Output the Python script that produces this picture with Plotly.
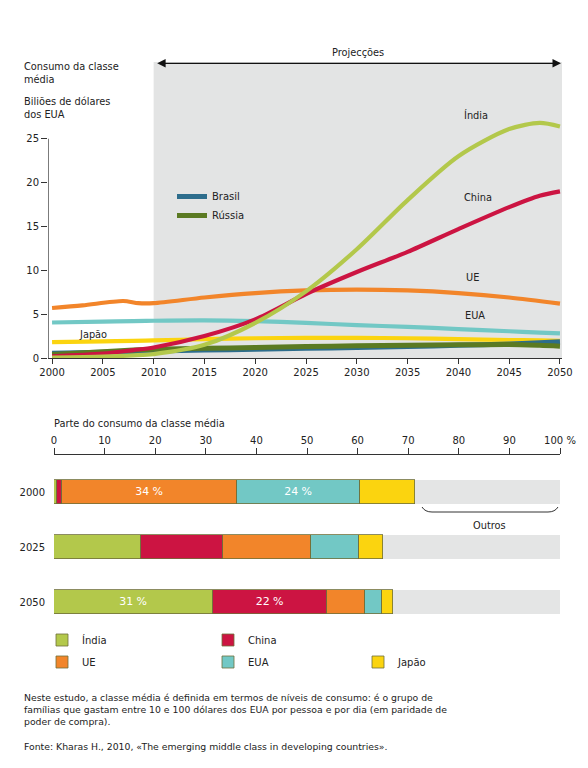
import plotly.graph_objects as go

# The page body has an 8px margin, so the figure is sized to fit the window
# and all reference pixel positions are converted with that offset.
OFF = 8
W, H = 588 - OFF, 768 - 2 * OFF
def px(x): return (x - OFF) / W
def py(y): return 1 - (y - OFF) / H

FONT = "DejaVu Sans"
TXT = "#222222"

# ---------------- Line chart data ----------------
years = [2000, 2005, 2008, 2010, 2015, 2020, 2025, 2030, 2035, 2040, 2045, 2048, 2050]
india = [0.05, 0.15, 0.3, 0.45, 1.5, 4.0, 7.6, 12.4, 18.0, 23.0, 26.1, 26.8, 26.4]
china = [0.2, 0.5, 0.9, 1.2, 2.5, 4.4, 7.3, 9.8, 12.1, 14.7, 17.2, 18.5, 19.0]
ue_years = [2000, 2003, 2007, 2008.5, 2010, 2015, 2020, 2025, 2030, 2035, 2040, 2045, 2050]
ue = [5.7, 6.0, 6.5, 6.25, 6.25, 6.9, 7.4, 7.7, 7.8, 7.7, 7.4, 6.9, 6.2]
eua = [4.05, 4.15, 4.2, 4.25, 4.3, 4.2, 4.0, 3.75, 3.55, 3.3, 3.05, 2.9, 2.8]
japao = [1.8, 1.9, 1.95, 2.0, 2.15, 2.25, 2.3, 2.3, 2.25, 2.15, 2.05, 2.0, 1.95]
brasil = [0.55, 0.65, 0.75, 0.8, 0.9, 1.0, 1.1, 1.2, 1.3, 1.45, 1.6, 1.75, 1.85]
russia = [0.4, 0.7, 0.9, 1.0, 1.1, 1.2, 1.3, 1.4, 1.45, 1.5, 1.55, 1.45, 1.35]

y_ticks = [0, 5, 10, 15, 20, 25]
x_ticks = list(range(2000, 2051, 5))

# ---------------- Bar chart data ----------------
bar_years = ["2000", "2025", "2050"]
share_india = [0.5, 17.2, 31.4]
share_china = [1.1, 16.2, 22.6]
share_ue = [34.5, 17.3, 7.5]
share_eua = [24.4, 9.5, 3.4]
share_japao = [10.9, 4.9, 2.0]
share_outros = [100 - a - b - c - d - e for a, b, c, d, e in
                zip(share_india, share_china, share_ue, share_eua, share_japao)]
lbl_india = ["", "", "31 %"]
lbl_china = ["", "", "22 %"]
lbl_ue = ["34 %", "", ""]
lbl_eua = ["24 %", "", ""]
pct_ticks = list(range(0, 101, 10))
pct_labels = ["0", "10", "20", "30", "40", "50", "60", "70", "80", "90", "100 %"]

C_INDIA = "#b3c84b"
C_CHINA = "#cc1442"
C_UE = "#f2852a"
C_EUA = "#72c8c5"
C_JAPAO = "#fbd40f"
C_BRASIL = "#2d6d8c"
C_RUSSIA = "#5b7a22"
C_OUTROS = "#e4e5e5"

fig = go.Figure()

def line(x, y, color, name, width=4.2, show=False):
    fig.add_trace(go.Scatter(x=x, y=y, mode="lines", name=name,
                             line=dict(color=color, width=width, shape="spline", smoothing=0.8),
                             showlegend=show, xaxis="x", yaxis="y", hoverinfo="skip"))

line(years, eua, C_EUA, "EUA")
line(ue_years, ue, C_UE, "UE")
line(years, japao, C_JAPAO, "Japão")
line(years, brasil, C_BRASIL, "Brasil", width=5, show=True)
line(years, russia, C_RUSSIA, "Rússia", width=5, show=True)
line(years, china, C_CHINA, "China")
line(years, india, C_INDIA, "Índia")

# ---------------- Bars ----------------
def bar(vals, color, name, labels=None, legend=None, outline=True):
    fig.add_trace(go.Bar(
        y=bar_years, x=vals, orientation="h", name=name,
        marker=dict(color=color, line=dict(color="#6f6f3a" if outline else color, width=0.8 if outline else 0)),
        text=labels if labels else None, textposition="inside", insidetextanchor="middle",
        textfont=dict(color="white", size=11, family=FONT), width=0.44,
        xaxis="x2", yaxis="y2", showlegend=legend is not None,
        legend=legend if legend else "legend", hoverinfo="skip"))

bar(share_india, C_INDIA, "Índia", lbl_india, "legend2")
bar(share_china, C_CHINA, "China", lbl_china, "legend3")
bar(share_ue, C_UE, "UE", lbl_ue, "legend4")
bar(share_eua, C_EUA, "EUA", lbl_eua, "legend5")
bar(share_japao, C_JAPAO, "Japão", None, "legend6")
bar(share_outros, C_OUTROS, "Outros", None, None, outline=False)

# ---------------- Layout ----------------
YTOP = 33.75
shapes = [
    dict(type="rect", xref="x", yref="y", x0=2010, x1=2050.2, y0=0, y1=YTOP,
         fillcolor="#e3e4e4", line=dict(width=0), layer="below"),
    dict(type="line", xref="x", yref="y", x0=1999.6, x1=1999.6, y0=0, y1=25,
         line=dict(color="#333333", width=1.3)),
    # Outros bracket
    dict(type="path", xref="paper", yref="paper",
         path=f"M {px(422)} {py(507)} Q {px(425)} {py(512)} {px(432)} {py(512)} "
              f"L {px(548)} {py(512)} Q {px(555)} {py(512)} {px(558)} {py(507)}",
         line=dict(color="#333333", width=1)),
]

def legend_at(x, y):
    return dict(x=px(x), y=py(y), xanchor="left", yanchor="middle", traceorder="normal",
                font=dict(family=FONT, size=10, color=TXT), bgcolor="rgba(0,0,0,0)",
                itemclick=False, itemdoubleclick=False, tracegroupgap=0)

annotations = [
    dict(text="Consumo da classe<br>média", x=px(22), y=py(59), xanchor="left", yanchor="top", align="left"),
    dict(text="Biliões de dólares<br>dos EUA", x=px(22), y=py(94), xanchor="left", yanchor="top", align="left"),
    dict(text="Projecções", x=px(358), y=py(52), xanchor="center", yanchor="middle"),
    dict(text="Índia", x=px(476), y=py(115), xanchor="center", yanchor="middle"),
    dict(text="China", x=px(478), y=py(197), xanchor="center", yanchor="middle"),
    dict(text="UE", x=px(472), y=py(277), xanchor="center", yanchor="middle"),
    dict(text="EUA", x=px(475), y=py(316), xanchor="center", yanchor="middle"),
    dict(text="Japão", x=px(93), y=py(334), xanchor="center", yanchor="middle"),
    dict(text="Parte do consumo da classe média", x=px(52), y=py(423), xanchor="left", yanchor="middle"),
    dict(text="Outros", x=px(489), y=py(525), xanchor="center", yanchor="middle"),
    dict(text="Neste estudo, a classe média é definida em termos de níveis de consumo: é o grupo de<br>"
              "famílias que gastam entre 10 e 100 dólares dos EUA por pessoa e por dia (em paridade de<br>"
              "poder de compra).",
         x=px(22), y=py(690), xanchor="left", yanchor="top", align="left", font=dict(size=9.3)),
    dict(text="Fonte: Kharas H., 2010, «The emerging middle class in developing countries».",
         x=px(22), y=py(739), xanchor="left", yanchor="top", align="left", font=dict(size=9.3)),
]
for a in annotations:
    a.setdefault("xref", "paper")
    a.setdefault("yref", "paper")
    a.setdefault("showarrow", False)
    a.setdefault("font", dict(size=9.8))
    a["font"] = dict(family=FONT, color=TXT, **a["font"])

# double-headed arrow
annotations.append(dict(x=2050.1, y=33.6, ax=2010.2, ay=33.6, xref="x", yref="y", axref="x", ayref="y",
                        text="", showarrow=True, arrowhead=2, arrowside="end+start",
                        arrowsize=1.3, arrowwidth=1.3, arrowcolor="#111111"))

axis_common = dict(showgrid=False, zeroline=False, automargin=False, fixedrange=True,
                   tickfont=dict(size=10, family=FONT, color=TXT))

fig.update_layout(
    template="none",
    width=W, height=H, margin=dict(l=0, r=0, t=0, b=0, pad=0, autoexpand=False),
    paper_bgcolor="white", plot_bgcolor="rgba(0,0,0,0)",
    font=dict(family=FONT, size=10, color=TXT),
    barmode="stack", bargap=0,
    xaxis=dict(domain=[px(48), px(562)], range=[1999.6, 2050.2], tickvals=x_ticks,
               showline=True, linecolor="#333333", linewidth=1.3,
               ticks="outside", ticklen=5, tickcolor="#333333", tickwidth=1.2,
               anchor="y", **axis_common),
    yaxis=dict(domain=[py(358), py(62)], range=[0, YTOP], tickvals=y_ticks, showline=False,
               ticks="outside", ticklen=6, tickcolor="#333333", tickwidth=1.2,
               anchor="x", **axis_common),
    xaxis2=dict(domain=[px(54), px(560)], range=[0, 100], tickvals=pct_ticks, ticktext=pct_labels,
                side="top", showline=True, linecolor="#333333", linewidth=1.2,
                ticks="outside", ticklen=6, tickcolor="#333333", tickwidth=1.2,
                anchor="y2", **axis_common),
    yaxis2=dict(domain=[py(618.5), py(455)], type="category", categoryorder="array",
                categoryarray=bar_years, range=[2.3, -0.673], showline=False, ticks="",
                ticklabelstandoff=8, anchor="x2", **axis_common),
    legend=legend_at(172, 206),
    legend2=legend_at(42, 640),
    legend3=legend_at(208, 640),
    legend4=legend_at(42, 662),
    legend5=legend_at(208, 662),
    legend6=legend_at(358, 662),
    shapes=shapes,
    annotations=annotations,
)

fig.write_html("out.html")
